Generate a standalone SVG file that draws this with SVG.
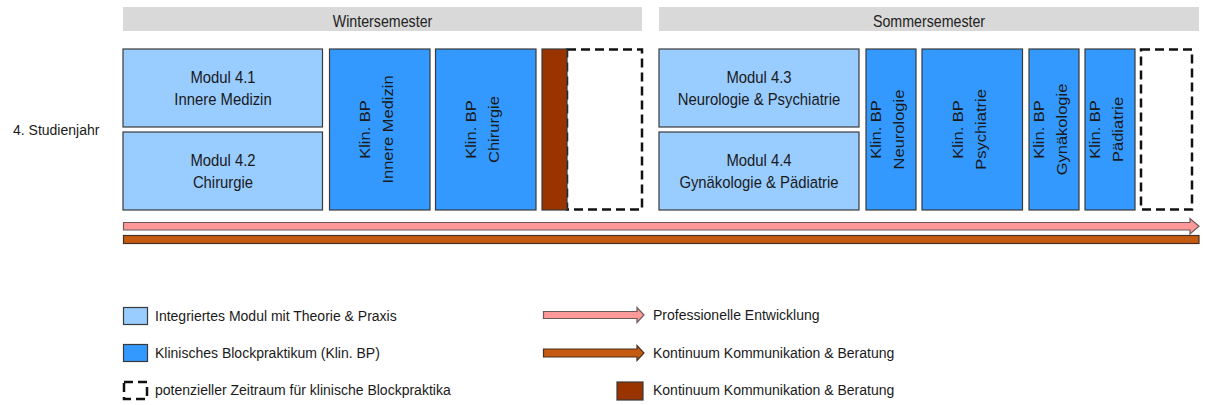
<svg xmlns="http://www.w3.org/2000/svg" width="1206" height="405" viewBox="0 0 1206 405">
<style>
.hdr{fill:#d9d9d9}
.mod{fill:#99ccff;stroke:#3a3a3a;stroke-width:1.2}
.bp{fill:#3399ff;stroke:#3a3a3a;stroke-width:1.2}
.dash{fill:#fff;stroke:#111;stroke-width:2.5;stroke-dasharray:9 5}
.brn{fill:#993300;stroke:#3a3a3a;stroke-width:1.2}
.pink{fill:#ff9999;stroke:#6b5a5a;stroke-width:1.2}
.orng{fill:#c55a11;stroke:#4a3020;stroke-width:1.2}
.t{font-family:"Liberation Sans",Arial,sans-serif;fill:#1a1a1a;text-anchor:middle;font-size:16.5px}
.h{font-family:"Liberation Sans",Arial,sans-serif;fill:#222;text-anchor:middle;font-size:16px}
.l{font-family:"Liberation Sans",Arial,sans-serif;fill:#1a1a1a;font-size:14px}
</style>
<rect width="1206" height="405" fill="#fff"/>
<g id="hdr-winter">
<rect class="hdr" x="123" y="7" width="519" height="24"/>
<text class="h" transform="translate(382.5,26.5) scale(0.89,1)">Wintersemester</text>
</g>
<g id="hdr-sommer">
<rect class="hdr" x="659" y="7" width="540" height="24"/>
<text class="h" transform="translate(929,26.5) scale(0.89,1)">Sommersemester</text>
</g>
<g id="label-jahr">
<text class="l" x="13" y="135">4. Studienjahr</text>
</g>
<g id="modul-41">
<rect class="mod" x="123" y="49" width="199.5" height="78"/>
<text class="t" transform="translate(223,88) scale(0.9,1)"><tspan x="0" y="-5">Modul 4.1</tspan><tspan x="0" y="17">Innere Medizin</tspan></text>
</g>
<g id="modul-42">
<rect class="mod" x="123" y="132" width="199.5" height="78"/>
<text class="t" transform="translate(223,171) scale(0.9,1)"><tspan x="0" y="-5">Modul 4.2</tspan><tspan x="0" y="17">Chirurgie</tspan></text>
</g>
<g id="bp-innere">
<rect class="bp" x="329.5" y="49" width="100.5" height="161"/>
<text class="t" transform="translate(379.5,129.5) scale(0.9,1) rotate(-90)"><tspan x="0" y="-11">Klin. BP</tspan><tspan x="0" y="15">Innere Medizin</tspan></text>
</g>
<g id="bp-chirurgie">
<rect class="bp" x="435.5" y="49" width="100.5" height="161"/>
<text class="t" transform="translate(485.5,129.5) scale(0.9,1) rotate(-90)"><tspan x="0" y="-11">Klin. BP</tspan><tspan x="0" y="15">Chirurgie</tspan></text>
</g>
<g id="zeitraum-winter">
<rect class="dash" x="567" y="49.5" width="75" height="160"/>
</g>
<g id="kontinuum-block">
<rect class="brn" x="542" y="49" width="25" height="161"/>
</g>
<g id="modul-43">
<rect class="mod" x="659" y="49" width="200" height="78"/>
<text class="t" transform="translate(759,88) scale(0.9,1)"><tspan x="0" y="-5">Modul 4.3</tspan><tspan x="0" y="17">Neurologie &amp; Psychiatrie</tspan></text>
</g>
<g id="modul-44">
<rect class="mod" x="659" y="132" width="200" height="78"/>
<text class="t" transform="translate(759,171) scale(0.9,1)"><tspan x="0" y="-5">Modul 4.4</tspan><tspan x="0" y="17">Gynäkologie &amp; Pädiatrie</tspan></text>
</g>
<g id="bp-neurologie">
<rect class="bp" x="866" y="49" width="50" height="161"/>
<text class="t" transform="translate(891,129.5) scale(0.9,1) rotate(-90)"><tspan x="0" y="-11">Klin. BP</tspan><tspan x="0" y="15">Neurologie</tspan></text>
</g>
<g id="bp-psychiatrie">
<rect class="bp" x="922" y="49" width="100.5" height="161"/>
<text class="t" transform="translate(972.5,129.5) scale(0.9,1) rotate(-90)"><tspan x="0" y="-11">Klin. BP</tspan><tspan x="0" y="15">Psychiatrie</tspan></text>
</g>
<g id="bp-gynaekologie">
<rect class="bp" x="1029" y="49" width="50" height="161"/>
<text class="t" transform="translate(1054,129.5) scale(0.9,1) rotate(-90)"><tspan x="0" y="-11">Klin. BP</tspan><tspan x="0" y="15">Gynäkologie</tspan></text>
</g>
<g id="bp-paediatrie">
<rect class="bp" x="1085" y="49" width="50" height="161"/>
<text class="t" transform="translate(1110,129.5) scale(0.9,1) rotate(-90)"><tspan x="0" y="-11">Klin. BP</tspan><tspan x="0" y="15">Pädiatrie</tspan></text>
</g>
<g id="zeitraum-sommer">
<rect class="dash" x="1141" y="49.5" width="51" height="160"/>
</g>
<g id="connectors">
<polygon class="pink" points="123.5,222.5 1190,222.5 1190,218.5 1199,226.25 1190,234 1190,230 123.5,230"/>
<rect class="orng" x="123.5" y="235.5" width="1075.5" height="8"/>
</g>
<g id="legend">
<rect class="mod" x="123.5" y="307.5" width="24" height="17"/>
<text class="l" x="155" y="321">Integriertes Modul mit Theorie &amp; Praxis</text>
<rect class="bp" x="123.5" y="344.5" width="24" height="17"/>
<text class="l" x="155" y="358">Klinisches Blockpraktikum (Klin. BP)</text>
<rect class="dash" x="124" y="382" width="23" height="17"/>
<text class="l" x="155" y="395">potenzieller Zeitraum für klinische Blockpraktika</text>
<polygon class="pink" points="543.5,311.5 637,311.5 637,307.5 644,315 637,322.5 637,318.5 543.5,318.5"/>
<text class="l" x="653" y="320">Professionelle Entwicklung</text>
<polygon class="orng" points="543.5,349 637,349 637,345.5 644,353 637,360.5 637,357 543.5,357"/>
<text class="l" x="653" y="358">Kontinuum Kommunikation &amp; Beratung</text>
<rect class="brn" x="617" y="382" width="26" height="18"/>
<text class="l" x="653" y="395">Kontinuum Kommunikation &amp; Beratung</text>
</g>
</svg>
